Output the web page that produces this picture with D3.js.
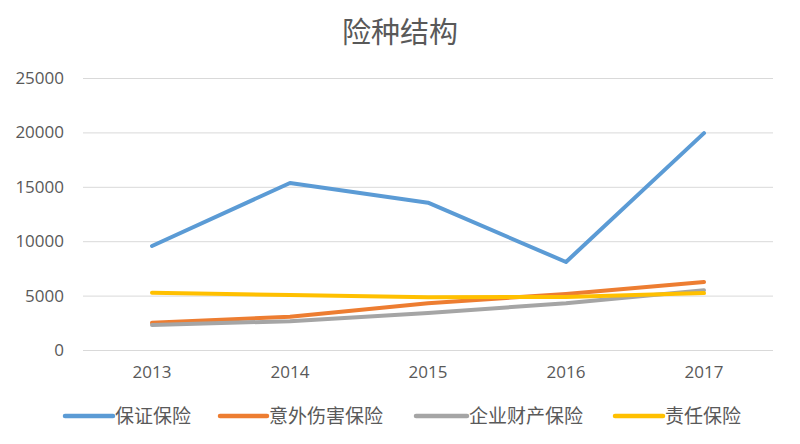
<!DOCTYPE html>
<html><head><meta charset="utf-8">
<script src="https://cdn.jsdelivr.net/npm/d3@7"></script>
<style>body{margin:0;background:#fff}svg{display:block}</style>
</head><body><svg id="c" width="800" height="444"></svg>
<script>
const title = "险种结构";
const years = ["2013","2014","2015","2016","2017"];
const seriesNames = ["保证保险","意外伤害保险","企业财产保险","责任保险"];
const guarantee = [9560, 15350, 13540, 8090, 19930];
const accident = [2500, 3060, 4300, 5150, 6250];
const property = [2300, 2650, 3400, 4300, 5500];
const liability = [5260, 5050, 4850, 4880, 5230];
const yTicks = [0, 5000, 10000, 15000, 20000, 25000];
const colors = ["#5B9BD5","#ED7D31","#A5A5A5","#FFC000"];

const svg = d3.select("#c");
const mLeft = 83, mRight = 773, mTop = 78, mBottom = 350;
const x = d3.scaleBand().domain(years).range([mLeft, mRight]);
const y = d3.scaleLinear().domain([0, 25000]).range([mBottom, mTop]);
const font = "'Noto Sans CJK SC','Open Sans',sans-serif";

svg.append("text").attr("x", 400).attr("y", 43).attr("text-anchor","middle")
  .attr("font-family", font).attr("font-size", 29).attr("fill","#595959").text(title);

const yAxis = d3.axisLeft(y).tickValues(yTicks).tickSize(-(mRight-mLeft)).tickPadding(19).tickFormat(d3.format("d"));
const gy = svg.append("g").attr("transform",`translate(${mLeft},0)`).call(yAxis);
gy.select(".domain").remove();
gy.selectAll(".tick line").attr("stroke","#d9d9d9").attr("stroke-width",1);
gy.selectAll(".tick text").attr("font-family","'Open Sans',sans-serif").attr("font-size",17).attr("fill","#595959");

const xAxis = d3.axisBottom(x).tickSize(0).tickPadding(16);
const gx = svg.append("g").attr("transform",`translate(0,${mBottom})`).call(xAxis);
gx.select(".domain").remove();
gx.selectAll(".tick text").attr("font-family","'Open Sans',sans-serif").attr("font-size",17).attr("fill","#595959");

const all = [guarantee, accident, property, liability];
const line = d3.line().x((d,i)=>x(years[i]) + x.bandwidth()/2).y(d=>y(d));
all.forEach((s,k)=>{
  svg.append("path").datum(s).attr("d", line).attr("fill","none")
    .attr("stroke", colors[k]).attr("stroke-width", 4).attr("stroke-linejoin","round").attr("stroke-linecap","round");
});

const legX = [65, 220, 416, 615];
const legW = [48, 47, 51, 48];
seriesNames.forEach((n,k)=>{
  const g = svg.append("g").attr("transform",`translate(${legX[k]},416)`);
  g.append("line").attr("x1",0).attr("x2",legW[k]).attr("y1",0).attr("y2",0)
    .attr("stroke",colors[k]).attr("stroke-width",4.5).attr("stroke-linecap","round");
  g.append("text").attr("x",legW[k]+2).attr("y",7).attr("font-family",font).attr("font-size",19)
    .attr("fill","#595959").text(n);
});
</script></body></html>
